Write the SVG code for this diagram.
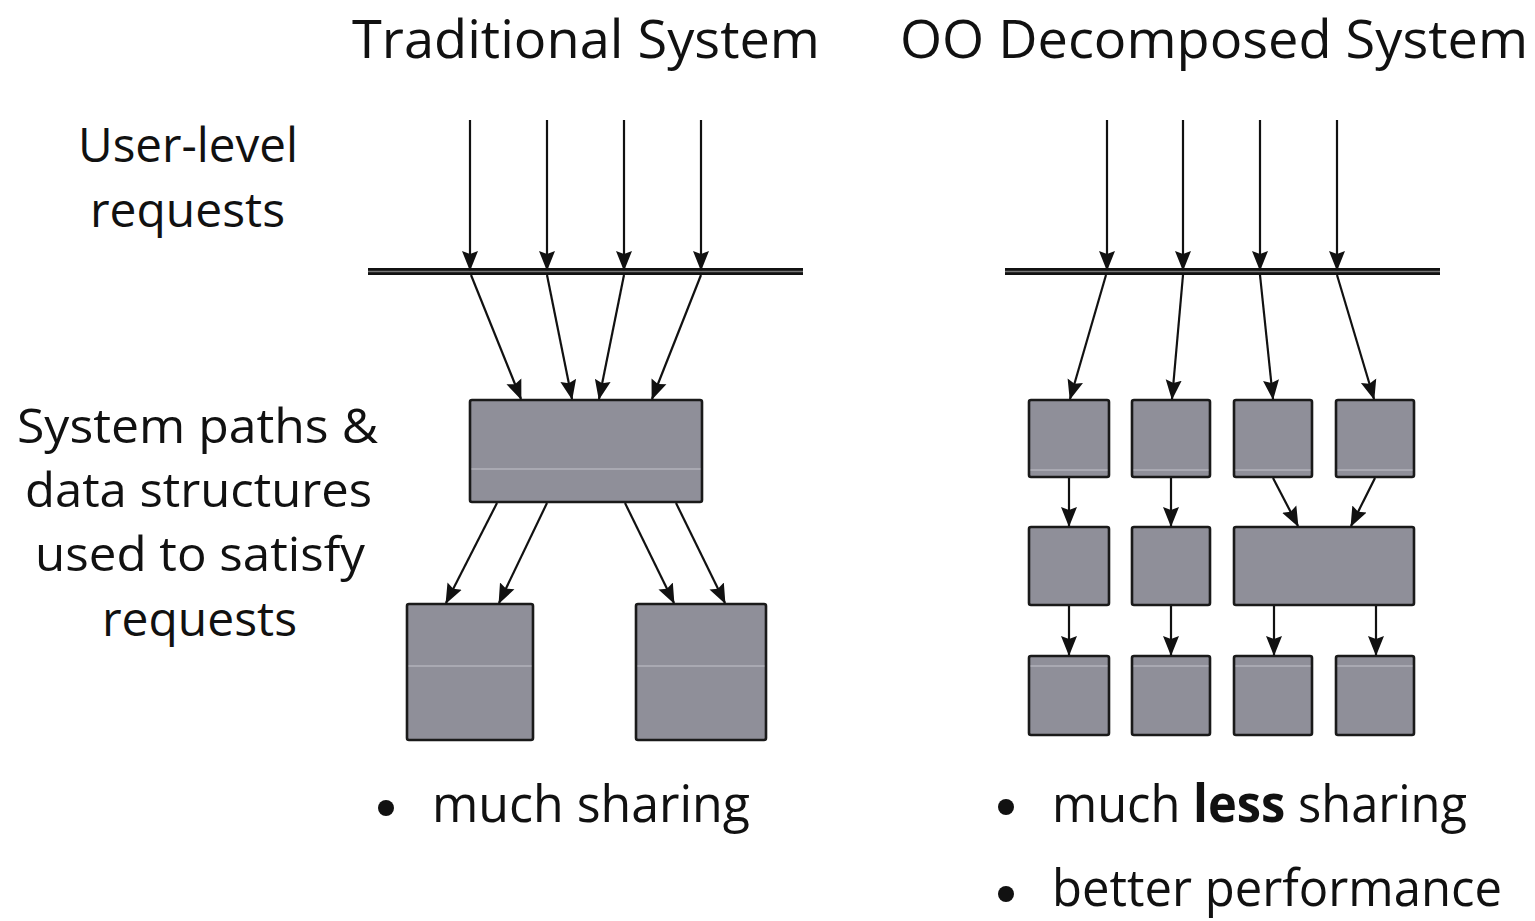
<svg xmlns="http://www.w3.org/2000/svg" width="1535" height="921" viewBox="0 0 1535 921">
<defs>
<style>
.t{font-family:"Open Sans","Liberation Sans",sans-serif;fill:#111;}
.h{font-size:53px;}
.l{font-size:48px;}
.b{font-size:52px;}
.box{fill:#8f8f99;stroke:#1a1a1a;stroke-width:2.6;}
.hl{stroke:#c4c4cc;stroke-width:1.2;}
.c{stroke:#111;stroke-width:2.2;fill:none;marker-end:url(#ah);}
.bar{fill:#111;}
.barin{stroke:#777;stroke-width:1.5;}
</style>
<marker id="ah" markerUnits="userSpaceOnUse" markerWidth="20" markerHeight="20" viewBox="0 0 20 16" refX="19" refY="8" orient="auto">
<path d="M0,0 L20,8 L0,16 L3,8 Z" fill="#111"/>
</marker>
</defs>
<rect width="1535" height="921" fill="#fff"/>

<g id="titles">
<text class="t h" x="352" y="58" textLength="468" lengthAdjust="spacingAndGlyphs">Traditional System</text>
<text class="t h" x="900" y="58" textLength="628" lengthAdjust="spacingAndGlyphs">OO Decomposed System</text>
</g>

<g id="labels">
<text class="t l" x="78" y="162" textLength="220" lengthAdjust="spacingAndGlyphs">User-level</text>
<text class="t l" x="90" y="227" textLength="195" lengthAdjust="spacingAndGlyphs">requests</text>
<text class="t l" x="17" y="443" textLength="361" lengthAdjust="spacingAndGlyphs">System paths &amp;</text>
<text class="t l" x="25" y="507" textLength="347" lengthAdjust="spacingAndGlyphs">data structures</text>
<text class="t l" x="35" y="571" textLength="330" lengthAdjust="spacingAndGlyphs">used to satisfy</text>
<text class="t l" x="102" y="636" textLength="195" lengthAdjust="spacingAndGlyphs">requests</text>
</g>

<g id="bullets">
<circle cx="386" cy="808" r="8" fill="#111"/>
<text class="t b" x="432" y="822" textLength="318" lengthAdjust="spacingAndGlyphs">much sharing</text>
<circle cx="1006" cy="807" r="8" fill="#111"/>
<text class="t b" x="1052" y="822" textLength="415" lengthAdjust="spacingAndGlyphs">much <tspan font-weight="bold">less</tspan> sharing</text>
<circle cx="1006" cy="894" r="8" fill="#111"/>
<text class="t b" x="1052" y="906" textLength="450" lengthAdjust="spacingAndGlyphs">better performance</text>
</g>

<g id="bar-left">
<rect class="bar" x="368" y="268" width="435" height="7"/>
<line class="barin" x1="368" y1="271.5" x2="803" y2="271.5"/>
</g>
<g id="bar-right">
<rect class="bar" x="1005" y="268" width="435" height="7"/>
<line class="barin" x1="1005" y1="271.5" x2="1440" y2="271.5"/>
</g>

<g id="trad-main">
<rect class="box" x="470" y="400" width="232" height="102" rx="2"/>
<line class="hl" x1="471.5" y1="469" x2="700.5" y2="469"/>
</g>
<g id="trad-left">
<rect class="box" x="407" y="604" width="126" height="136" rx="2"/>
<line class="hl" x1="408.5" y1="666" x2="531.5" y2="666"/>
</g>
<g id="trad-right">
<rect class="box" x="636" y="604" width="130" height="136" rx="2"/>
<line class="hl" x1="637.5" y1="666" x2="764.5" y2="666"/>
</g>

<g id="oo-r1c1"><rect class="box" x="1029" y="400" width="80" height="77" rx="2"/><line class="hl" x1="1030.5" y1="470" x2="1107.5" y2="470"/></g>
<g id="oo-r1c2"><rect class="box" x="1132" y="400" width="78" height="77" rx="2"/><line class="hl" x1="1133.5" y1="470" x2="1208.5" y2="470"/></g>
<g id="oo-r1c3"><rect class="box" x="1234" y="400" width="78" height="77" rx="2"/><line class="hl" x1="1235.5" y1="470" x2="1310.5" y2="470"/></g>
<g id="oo-r1c4"><rect class="box" x="1336" y="400" width="78" height="77" rx="2"/><line class="hl" x1="1337.5" y1="470" x2="1412.5" y2="470"/></g>
<g id="oo-r2c1"><rect class="box" x="1029" y="527" width="80" height="78" rx="2"/></g>
<g id="oo-r2c2"><rect class="box" x="1132" y="527" width="78" height="78" rx="2"/></g>
<g id="oo-r2c34"><rect class="box" x="1234" y="527" width="180" height="78" rx="2"/></g>
<g id="oo-r3c1"><rect class="box" x="1029" y="656" width="80" height="79" rx="2"/><line class="hl" x1="1030.5" y1="666" x2="1107.5" y2="666"/></g>
<g id="oo-r3c2"><rect class="box" x="1132" y="656" width="78" height="79" rx="2"/><line class="hl" x1="1133.5" y1="666" x2="1208.5" y2="666"/></g>
<g id="oo-r3c3"><rect class="box" x="1234" y="656" width="78" height="79" rx="2"/><line class="hl" x1="1235.5" y1="666" x2="1310.5" y2="666"/></g>
<g id="oo-r3c4"><rect class="box" x="1336" y="656" width="78" height="79" rx="2"/><line class="hl" x1="1337.5" y1="666" x2="1412.5" y2="666"/></g>

<g id="connectors">
<line class="c" x1="470" y1="120" x2="470" y2="270"/>
<line class="c" x1="547" y1="120" x2="547" y2="270"/>
<line class="c" x1="624" y1="120" x2="624" y2="270"/>
<line class="c" x1="701" y1="120" x2="701" y2="270"/>
<line class="c" x1="471" y1="275" x2="521" y2="399"/>
<line class="c" x1="547" y1="275" x2="572" y2="399"/>
<line class="c" x1="624" y1="275" x2="599" y2="399"/>
<line class="c" x1="701" y1="275" x2="652" y2="399"/>
<line class="c" x1="497" y1="503" x2="446" y2="603"/>
<line class="c" x1="547" y1="503" x2="499" y2="603"/>
<line class="c" x1="625" y1="503" x2="674" y2="603"/>
<line class="c" x1="676" y1="503" x2="725" y2="603"/>

<line class="c" x1="1107" y1="120" x2="1107" y2="270"/>
<line class="c" x1="1183" y1="120" x2="1183" y2="270"/>
<line class="c" x1="1260" y1="120" x2="1260" y2="270"/>
<line class="c" x1="1337" y1="120" x2="1337" y2="270"/>
<line class="c" x1="1106" y1="275" x2="1070" y2="399"/>
<line class="c" x1="1183" y1="275" x2="1172" y2="399"/>
<line class="c" x1="1260" y1="275" x2="1273" y2="399"/>
<line class="c" x1="1337" y1="275" x2="1374" y2="399"/>

<line class="c" x1="1069" y1="478" x2="1069" y2="526"/>
<line class="c" x1="1171" y1="478" x2="1171" y2="526"/>
<line class="c" x1="1273" y1="478" x2="1298" y2="526"/>
<line class="c" x1="1375" y1="478" x2="1351" y2="526"/>

<line class="c" x1="1069" y1="606" x2="1069" y2="655"/>
<line class="c" x1="1171" y1="606" x2="1171" y2="655"/>
<line class="c" x1="1274" y1="606" x2="1274" y2="655"/>
<line class="c" x1="1376" y1="606" x2="1376" y2="655"/>
</g>
</svg>
